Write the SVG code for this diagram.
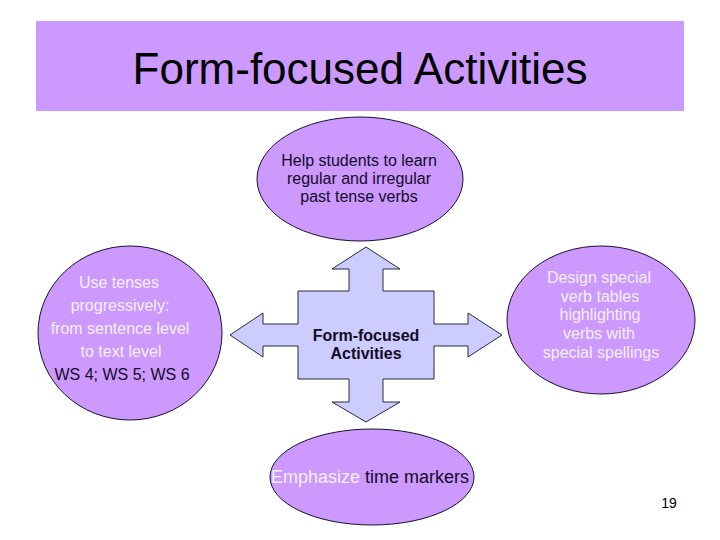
<svg xmlns="http://www.w3.org/2000/svg" width="720" height="540" viewBox="0 0 720 540">
<style>
text{font-family:"Liberation Sans",Arial,sans-serif;text-anchor:middle}
.bubble{fill:#cc99ff;stroke:#1a0f2e;stroke-width:1}
.t16{font-size:16px}
.lt{fill:#f6efff}
.dk{fill:#140a26}
</style>
<rect width="720" height="540" fill="#ffffff"/>
<g id="title">
<rect x="36" y="21" width="648" height="90" fill="#cc99ff"/>
<text x="360" y="84" font-size="44" fill="#000">Form-focused Activities</text>
</g>
<g id="connectors">
<polygon points="366,247 400,269 383,269 383,291 434,291 434,324 468,324 468,313 502,335 468,357 468,346 434,346 434,379 383,379 383,402 400,402 366,422 332,402 349,402 349,379 298,379 298,346 263,346 263,357 230,335 263,313 263,324 298,324 298,291 349,291 349,269 332,269" fill="#ccccff" stroke="#2a2a3a" stroke-width="1"/>
</g>
<g id="center">
<text class="t16 dk" font-weight="bold" x="366" y="341">Form-focused</text>
<text class="t16 dk" font-weight="bold" x="366" y="359">Activities</text>
</g>
<g id="top">
<ellipse class="bubble" cx="360" cy="179" rx="103" ry="62"/>
<text class="t16 dk" x="359" y="166">Help students to learn</text>
<text class="t16 dk" x="359" y="184">regular and irregular</text>
<text class="t16 dk" x="359" y="202">past tense verbs</text>
</g>
<g id="left">
<ellipse class="bubble" cx="130" cy="333" rx="92" ry="87"/>
<text class="t16 lt" x="119" y="288">Use tenses</text>
<text class="t16 lt" x="120" y="311">progressively:</text>
<text class="t16 lt" x="120" y="334">from sentence level</text>
<text class="t16 lt" x="121" y="357">to text level</text>
<text class="t16 dk" x="122" y="380">WS 4; WS 5; WS 6</text>
</g>
<g id="right">
<ellipse class="bubble" cx="601" cy="320" rx="94" ry="74"/>
<text class="t16 lt" x="599" y="283">Design special</text>
<text class="t16 lt" x="600" y="302">verb tables</text>
<text class="t16 lt" x="600" y="320">highlighting</text>
<text class="t16 lt" x="599" y="339">verbs with</text>
<text class="t16 lt" x="601" y="358">special spellings</text>
</g>
<g id="bottom">
<ellipse class="bubble" cx="372" cy="477" rx="102" ry="48"/>
<text x="370" y="483" font-size="18"><tspan class="lt">Emphasize</tspan><tspan class="dk"> time markers</tspan></text>
</g>
<g id="page">
<text x="669" y="508" font-size="14" fill="#000">19</text>
</g>
</svg>
